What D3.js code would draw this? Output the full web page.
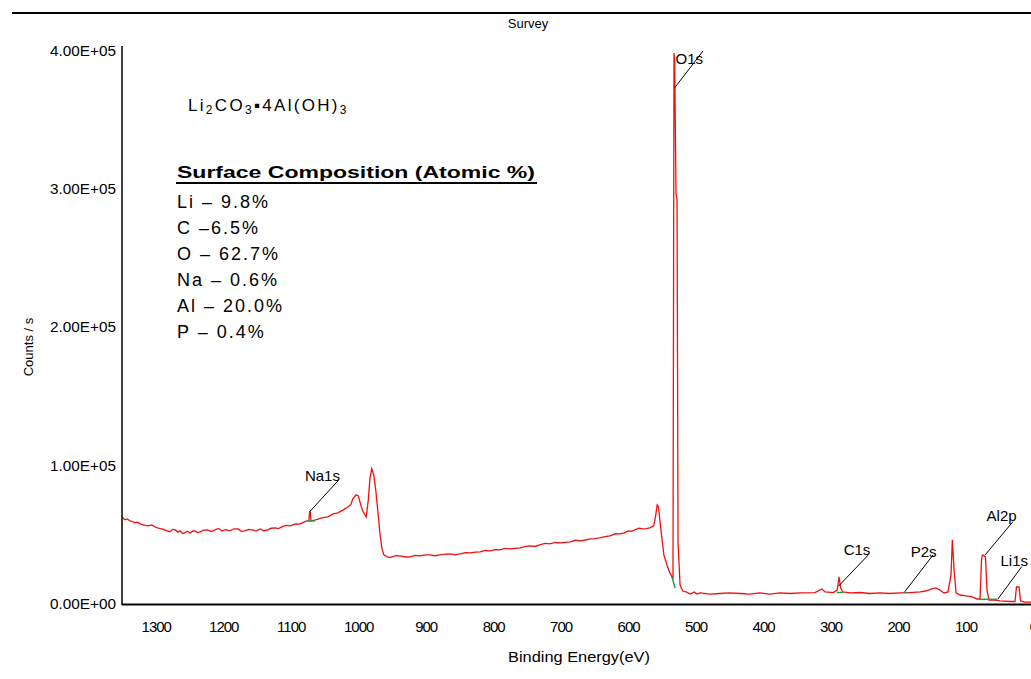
<!DOCTYPE html>
<html>
<head>
<meta charset="utf-8">
<script src="https://cdn.jsdelivr.net/npm/d3@7"></script>
<style>
  body { margin: 0; background: #fff; }
  svg { display: block; font-family: "Liberation Sans", Arial, sans-serif; }
</style>
</head>
<body>
<script>
// ---------- data ----------
// spectrum: [binding energy (eV), counts / s]
const spectrum = [
  [1350,63000],[1346,60900],[1342,61500],[1338,60100],[1334,59500],[1331,58700],[1327,59200],[1323,58000],
  [1317,57000],[1311,56500],[1306,57200],[1301,55800],[1296,54800],[1291,54300],[1285,53200],[1279,52200],
  [1275,54000],[1271,53600],[1267,52000],[1264,52900],[1260,51000],[1257,51400],[1253,52600],[1249,51400],
  [1245,52800],[1242,52900],[1238,51600],[1234,52200],[1229,53500],[1223,53600],[1218,52400],[1212,53600],
  [1207,54600],[1202,52900],[1196,53800],[1190,52900],[1184,54400],[1178,54300],[1173,52600],[1168,52900],
  [1162,54000],[1157,53600],[1151,52700],[1145,54300],[1140,53000],[1134,53600],[1129,54800],[1123,55100],
  [1118,54600],[1113,55800],[1107,56800],[1101,56500],[1096,57400],[1092,58000],[1087,57800],[1083,58700],
  [1079,59600],[1076,60100],[1073,60100],[1072,66700],[1071,66700],[1070,60100],[1063,60900],[1054,62300],
  [1045,63000],[1037,65200],[1030,65900],[1022,68100],[1015,70300],[1011,71700],[1008,76100],[1003,79000],
  [1000,78300],[997,73200],[994,68100],[991,65200],[988,63000],[985,75400],[982.5,91300],[980,97800],
  [977,93500],[974,82600],[971,68100],[968,52200],[965,40600],[962,35500],[957,34100],[953,33600],
  [950,34100],[944,35000],[938,34800],[930,34000],[923,34100],[916,35200],[908,34800],[900,35600],
  [894,35500],[886,34900],[879,35500],[871,36100],[864,36200],[856,35600],[849,36200],[841,37200],
  [834,37000],[826,37500],[819,37700],[812,38800],[805,38400],[797,39300],[790,39100],[782,40200],
  [775,39900],[767,40300],[760,40600],[752,41700],[745,42000],[738,41600],[731,42800],[723,43800],
  [716,43500],[708,44500],[701,44200],[693,44600],[686,44900],[678,46100],[671,45600],[663,46300],
  [656,47100],[649,47300],[642,47800],[634,48700],[627,49300],[619,50800],[612,50700],[606,51500],
  [600,52900],[595,52500],[590,53600],[584,54800],[579,54300],[573,54500],[568,55100],[562,56500],
  [559,64500],[557,71700],[555,70300],[553,60900],[550,47800],[547,35500],[542,27500],[538,22500],
  [535,19600],[533.5,18800],[532,398500],[531,392000],[529,296400],[527.5,292700],[526,44200],[523,13800],
  [519,9400],[514,8700],[508,7200],[502,8700],[498,7200],[493,8000],[479,7200],[464,7600],
  [450,8000],[434,7600],[420,7200],[405,8000],[390,7200],[375,8000],[360,7600],[345,8000],
  [323,8300],[313,10900],[308,8700],[296,8300],[290,10100],[287.5,19600],[285,11600],[282,8700],
  [271,8000],[256,8300],[242,7600],[227,8000],[212,7600],[197,8000],[182,8300],[167,8700],
  [159,9400],[150,10900],[144,11600],[138,10100],[132,8000],[126,8700],[121.5,21000],[119.5,46400],
  [117,24600],[114,8000],[108,6500],[99,5800],[90,5100],[83,3600],[78.5,3600],[76.3,31900],
  [75,35500],[72.6,34800],[70.4,34100],[68.2,10100],[65.2,2900],[56.3,2900],[49,2200],[34,1800],
  [26.7,1800],[24.5,12300],[20.7,12300],[18.5,2200],[11.9,1400],[0,1400]
];

// background (green) segments: [BE start, counts start, BE end, counts end]
const backgrounds = [
  [1075, 60100, 1064, 60100],
  [535, 19600, 530.5, 11600],
  [291, 8300, 281, 8300],
  [192, 8300, 187, 8300],
  [80, 3400, 53, 3400]
];

// peak annotations
const peakNames        = ["O1s", "Na1s", "C1s", "P2s", "Al2p", "Li1s"];
const leaderFromBE     = [531.6, 1072, 288, 190, 71, 52];
const leaderFromCounts = [373000, 66700, 13000, 8900, 35500, 3600];
const leaderToBE       = [489, 1030, 244, 148, 29.6, 16.7];
const leaderToCounts   = [400000, 89100, 35500, 35500, 59600, 27000];
const labelEndBE       = [489, 1027, 241, 143, 24.3, 7.4];
const labelCounts      = [390600, 89100, 35500, 34100, 60100, 27500];

const xTickValues = [1300,1200,1100,1000,900,800,700,600,500,400,300,200,100,0];
const yTickValues = [0, 100000, 200000, 300000, 400000];
const yTickLabels = ["0.00E+00", "1.00E+05", "2.00E+05", "3.00E+05", "4.00E+05"];

const chartTitle = "Survey";
const xTitle = "Binding Energy(eV)";
const yTitle = "Counts / s";
const compositionTitle = "Surface Composition (Atomic %)";
const compositionLines = ["Li \u2013 9.8%", "C \u20136.5%", "O \u2013 62.7%", "Na \u2013 0.6%", "Al \u2013 20.0%", "P \u2013 0.4%"];

// ---------- drawing ----------
const W = 1031, H = 679;
const svg = d3.select("body").append("svg").attr("width", W).attr("height", H);

const x = d3.scaleLinear().domain([1350, 0]).range([122, 1033]);
const y = d3.scaleLinear().domain([0, 400000]).range([604, 51]);

// top rule
svg.append("line").attr("x1", 12).attr("x2", W).attr("y1", 13).attr("y2", 13)
  .attr("stroke", "#000").attr("stroke-width", 2);

// title
svg.append("text").attr("x", 528).attr("y", 28).attr("text-anchor", "middle")
  .attr("font-size", 13).text(chartTitle);

// spectrum
const line = d3.line().x(d => x(d[0])).y(d => y(d[1]));
svg.append("path").datum(spectrum).attr("d", line)
  .attr("fill", "none").attr("stroke", "#f01010").attr("stroke-width", 1.3)
  .attr("stroke-linejoin", "miter");

// backgrounds
svg.selectAll("line.bg").data(backgrounds).join("line").attr("class", "bg")
  .attr("x1", d => x(d[0])).attr("y1", d => y(d[1]))
  .attr("x2", d => x(d[2])).attr("y2", d => y(d[3]))
  .attr("stroke", "#1fa04a").attr("stroke-width", 1.5);

// y axis
const yAxis = d3.axisLeft(y).tickValues(yTickValues).tickSize(0).tickPadding(6)
  .tickFormat((d, i) => yTickLabels[i]);
const gy = svg.append("g").attr("transform", "translate(122,0)").call(yAxis);
gy.select(".domain").remove();
gy.selectAll("text").attr("font-size", 14).attr("font-family", "Liberation Sans, Arial, sans-serif")
  .attr("fill", "#000").attr("textLength", 66).attr("lengthAdjust", "spacingAndGlyphs");
svg.append("line").attr("x1", 122).attr("x2", 122).attr("y1", 46).attr("y2", 605)
  .attr("stroke", "#000").attr("stroke-width", 1.5);

// x axis
const xAxis = d3.axisBottom(x).tickValues(xTickValues).tickSize(0).tickPadding(17)
  .tickFormat(d3.format("d"));
const gx = svg.append("g").attr("transform", "translate(0,604)").call(xAxis);
gx.select(".domain").remove();
gx.selectAll("text").attr("font-size", 15).attr("font-family", "Liberation Sans, Arial, sans-serif")
  .attr("fill", "#000").attr("letter-spacing", -1);
svg.append("line").attr("x1", 122).attr("x2", W).attr("y1", 604.5).attr("y2", 604.5)
  .attr("stroke", "#000").attr("stroke-width", 2);

// axis titles
svg.append("text").attr("x", 579).attr("y", 662).attr("text-anchor", "middle")
  .attr("font-size", 15).attr("textLength", 142).attr("lengthAdjust", "spacingAndGlyphs").text(xTitle);
svg.append("text").attr("transform", "translate(33,347) rotate(-90)").attr("text-anchor", "middle")
  .attr("font-size", 13).text(yTitle);

// peak leaders and labels
peakNames.forEach((name, i) => {
  svg.append("line")
    .attr("x1", x(leaderFromBE[i])).attr("y1", y(leaderFromCounts[i]))
    .attr("x2", x(leaderToBE[i])).attr("y2", y(leaderToCounts[i]))
    .attr("stroke", "#000").attr("stroke-width", 1);
  svg.append("text").attr("x", x(labelEndBE[i])).attr("y", y(labelCounts[i]))
    .attr("text-anchor", "end").attr("font-size", 15).text(name);
});

// formula
const f = svg.append("text").attr("x", 188).attr("y", 111).attr("font-size", 17)
  .attr("letter-spacing", 2.3);
f.append("tspan").text("Li");
f.append("tspan").attr("font-size", 12).attr("dy", 3).text("2");
f.append("tspan").attr("dy", -3).text("CO");
f.append("tspan").attr("font-size", 12).attr("dy", 3).text("3");
f.append("tspan").attr("dy", -3).text("\u25AA4Al(OH)");
f.append("tspan").attr("font-size", 12).attr("dy", 3).text("3");

// composition block
svg.append("text").attr("x", 177).attr("y", 178).attr("font-size", 17).attr("font-weight", "bold")
  .attr("textLength", 358).attr("lengthAdjust", "spacingAndGlyphs").text(compositionTitle);
svg.append("line").attr("x1", 176).attr("x2", 537).attr("y1", 183).attr("y2", 183)
  .attr("stroke", "#000").attr("stroke-width", 2);
svg.selectAll("text.comp").data(compositionLines).join("text").attr("class", "comp")
  .attr("x", 177).attr("y", (d, i) => 208 + i * 26).attr("font-size", 18)
  .attr("letter-spacing", 2).text(d => d);
</script>
</body>
</html>
